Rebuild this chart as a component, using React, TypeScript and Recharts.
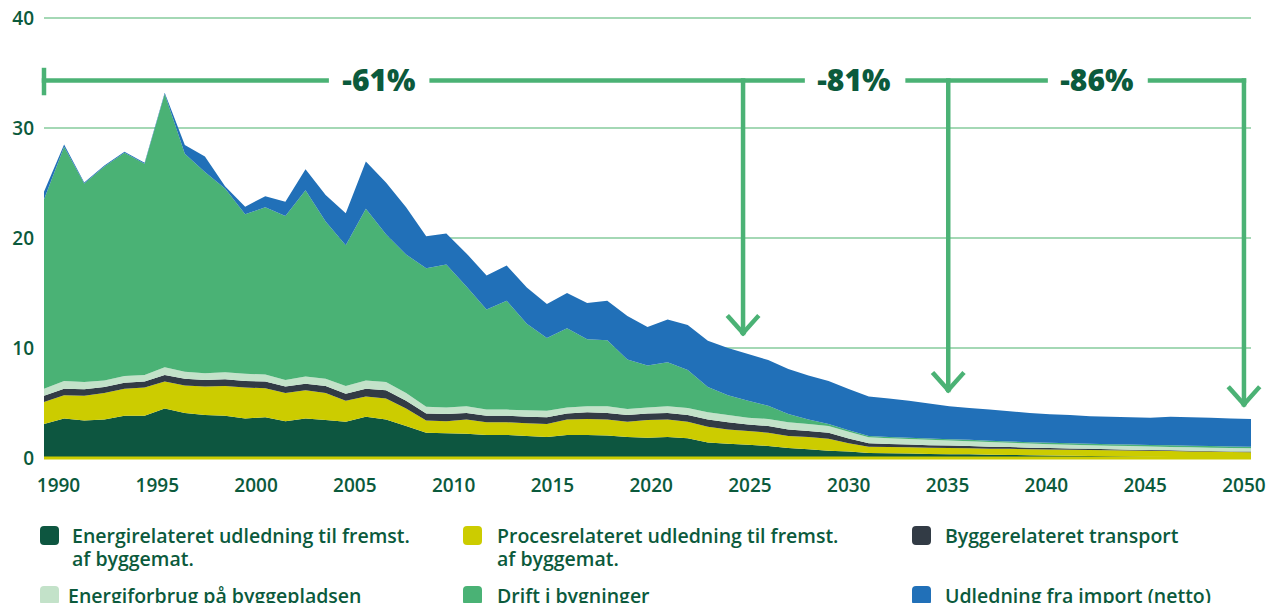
import { AreaChart, Area, XAxis, YAxis, CartesianGrid, ReferenceLine, ReferenceDot } from "recharts";

// --- data (Mt CO2e) ---
const years = [
  1990, 1991, 1992, 1993, 1994, 1995, 1996, 1997, 1998, 1999,
  2000, 2001, 2002, 2003, 2004, 2005, 2006, 2007, 2008, 2009,
  2010, 2011, 2012, 2013, 2014, 2015, 2016, 2017, 2018, 2019,
  2020, 2021, 2022, 2023, 2024, 2025, 2026, 2027, 2028, 2029,
  2030, 2031, 2032, 2033, 2034, 2035, 2036, 2037, 2038, 2039,
  2040, 2041, 2042, 2043, 2044, 2045, 2046, 2047, 2048, 2049,
  2050,
];

const energi = [
  3.1, 3.6, 3.4, 3.5, 3.85, 3.85, 4.5, 4.1, 3.9, 3.85,
  3.6, 3.7, 3.35, 3.6, 3.45, 3.3, 3.75, 3.5, 2.9, 2.3,
  2.25, 2.2, 2.1, 2.1, 2.0, 1.9, 2.1, 2.1, 2.05, 1.9,
  1.85, 1.9, 1.8, 1.4, 1.3, 1.2, 1.1, 0.9, 0.8, 0.67,
  0.58, 0.45, 0.43, 0.4, 0.37, 0.35, 0.33, 0.3, 0.28, 0.25,
  0.22, 0.2, 0.18, 0.16, 0.14, 0.12, 0.1, 0.08, 0.06, 0.04,
  0.03,
];

const proces = [
  2.0, 2.1, 2.25, 2.4, 2.45, 2.55, 2.45, 2.5, 2.6, 2.7,
  2.8, 2.65, 2.55, 2.55, 2.45, 1.9, 1.85, 1.9, 1.6, 1.1,
  1.1, 1.3, 1.15, 1.15, 1.15, 1.2, 1.4, 1.45, 1.45, 1.4,
  1.6, 1.6, 1.5, 1.45, 1.3, 1.25, 1.2, 1.1, 1.1, 1.08,
  0.75, 0.58, 0.57, 0.57, 0.56, 0.56, 0.56, 0.55, 0.55, 0.55,
  0.56, 0.55, 0.55, 0.54, 0.54, 0.53, 0.53, 0.52, 0.52, 0.51,
  0.5,
];

const transport = [
  0.55, 0.6, 0.6, 0.55, 0.55, 0.55, 0.6, 0.6, 0.6, 0.6,
  0.6, 0.6, 0.6, 0.6, 0.65, 0.65, 0.7, 0.75, 0.7, 0.65,
  0.65, 0.6, 0.6, 0.6, 0.6, 0.6, 0.55, 0.6, 0.6, 0.6,
  0.6, 0.6, 0.6, 0.65, 0.65, 0.6, 0.6, 0.6, 0.55, 0.55,
  0.45, 0.3, 0.28, 0.26, 0.24, 0.22, 0.2, 0.18, 0.16, 0.14,
  0.12, 0.11, 0.1, 0.09, 0.08, 0.07, 0.07, 0.06, 0.06, 0.05,
  0.05,
];

const byggeplads = [
  0.65, 0.7, 0.65, 0.6, 0.6, 0.6, 0.7, 0.65, 0.6, 0.65,
  0.65, 0.65, 0.6, 0.65, 0.65, 0.7, 0.75, 0.75, 0.7, 0.6,
  0.6, 0.6, 0.55, 0.55, 0.6, 0.6, 0.55, 0.55, 0.6, 0.55,
  0.55, 0.6, 0.65, 0.65, 0.65, 0.6, 0.65, 0.65, 0.65, 0.6,
  0.6, 0.55, 0.52, 0.5, 0.48, 0.46, 0.44, 0.42, 0.4, 0.38,
  0.36, 0.35, 0.34, 0.33, 0.32, 0.32, 0.31, 0.31, 0.3, 0.3,
  0.3,
];

const drift = [
  17.2, 21.3, 18.05, 19.45, 20.3, 19.2, 24.85, 19.8, 18.3, 16.7,
  14.5, 15.2, 14.9, 16.95, 14.3, 12.8, 15.6, 13.45, 12.6, 12.6,
  13.0, 10.9, 9.1, 9.9, 7.85, 6.6, 7.2, 6.1, 6.0, 4.5,
  3.8, 4.0, 3.45, 2.3, 1.8, 1.55, 1.2, 0.75, 0.4, 0.2,
  0.15, 0.12, 0.12, 0.12, 0.12, 0.12, 0.12, 0.12, 0.12, 0.12,
  0.12, 0.13, 0.13, 0.13, 0.14, 0.14, 0.14, 0.15, 0.15, 0.15,
  0.15,
];

const importNetto = [
  0.7, 0.2, 0.1, 0.1, 0.1, 0.1, 0.1, 0.8, 1.4, 0.2,
  0.7, 1.0, 1.3, 1.9, 2.4, 2.9, 4.3, 4.7, 4.3, 2.9,
  2.8, 3.0, 3.1, 3.2, 3.3, 3.1, 3.2, 3.3, 3.6, 3.95,
  3.5, 3.9, 4.1, 4.2, 4.3, 4.25, 4.15, 4.1, 4.0, 3.9,
  3.75, 3.6, 3.48, 3.35, 3.18, 2.99, 2.9, 2.83, 2.74, 2.66,
  2.6, 2.56, 2.5, 2.5, 2.48, 2.47, 2.6, 2.58, 2.56, 2.55,
  2.52,
];

const xTicks = [1990, 1995, 2000, 2005, 2010, 2015, 2020, 2025, 2030, 2035, 2040, 2045, 2050];
const yTicks = [0, 10, 20, 30, 40];

// reduction brackets: label, text position (year), gap in the line, arrow year, arrow tip value
const reductions = [
  { label: "-61%", textYear: 2006.65, gap: [2004.05, 2009.27], arrowYear: 2024.75, tip: 11.36 },
  { label: "-81%", textYear: 2030.26, gap: [2027.71, 2032.93], arrowYear: 2034.95, tip: 6.18 },
  { label: "-86%", textYear: 2042.34, gap: [2039.79, 2044.98], arrowYear: 2049.65, tip: 4.88 },
];
const bracketY = 34.32;

const series = [
  { key: "energi", name: ["Energirelateret udledning til fremst.", "af byggemat."], color: "#0d5640" },
  { key: "proces", name: ["Procesrelateret udledning til fremst.", "af byggemat."], color: "#cccc00" },
  { key: "transport", name: ["Byggerelateret transport"], color: "#323b45" },
  { key: "byggeplads", name: ["Energiforbrug på byggepladsen"], color: "#c3e2c9" },
  { key: "drift", name: ["Drift i bygninger"], color: "#4ab275" },
  { key: "importNetto", name: ["Udledning fra import (netto)"], color: "#2170b8" },
];

const rows = years.map((year, i) => ({
  year,
  energi: energi[i],
  proces: proces[i],
  transport: transport[i],
  byggeplads: byggeplads[i],
  drift: drift[i],
  importNetto: importNetto[i],
}));

const TEXT = "#0b5a3c";
const ARROW = "#4bb275";

// legend placement (3 columns x 2 rows)
const legendCols = [
  { sq: 32, tx: 64 },
  { sq: 455, tx: 489 },
  { sq: 904, tx: 937 },
];
const legendRows = [537, 597];

// year labels in the original sit a bit tighter than the data points
const XTick = (props: any) => {
  const { x, y, payload } = props;
  const dx = 14.5 - (payload.value - 1990) * 0.36;
  return (
    <text x={x + dx} y={y} dy="0.71em" textAnchor="middle" fill={TEXT} fontSize={19} fontWeight={600}>
      {payload.value}
    </text>
  );
};

const App = () => {
  // bracket line segments built from the reduction table
  const segs: Array<[number, number, number, number]> = [];
  segs.push([1990, 35.27, 1990, 33.18]);
  let start = 1990;
  reductions.forEach((r) => {
    segs.push([start, bracketY, r.gap[0], bracketY]);
    start = r.gap[1];
  });
  segs.push([start, bracketY, reductions[2].arrowYear, bracketY]);
  reductions.forEach((r) => {
    segs.push([r.arrowYear, bracketY, r.arrowYear, r.tip]);
    segs.push([r.arrowYear - 0.71, r.tip + 1.45, r.arrowYear, r.tip]);
    segs.push([r.arrowYear + 0.71, r.tip + 1.45, r.arrowYear, r.tip]);
  });

  return (
    <div
      style={{
        position: "relative",
        width: 1269,
        height: 605,
        marginTop: -10,
        fontFamily: "'Open Sans', sans-serif",
      }}
    >
      <AreaChart width={1269} height={520} data={rows} margin={{ top: 20, right: 26, left: 0, bottom: 10 }}>
        <CartesianGrid horizontal vertical={false} stroke="#86cb9d" strokeWidth={1.3} />
        <XAxis
          dataKey="year"
          type="number"
          domain={[1990, 2050]}
          ticks={xTicks}
          height={50}
          tickSize={0}
          tickMargin={21}
          axisLine={{ stroke: "#cccc00", strokeWidth: 3 }}
          tick={<XTick />}
        />
        <YAxis
          domain={[0, 40]}
          ticks={yTicks}
          width={36}
          tickSize={0}
          tickMargin={10}
          axisLine={false}
          tick={{ fill: TEXT, fontSize: 19, fontWeight: 600 }}
        />
        {series.map((s) => (
          <Area
            key={s.key}
            type="linear"
            dataKey={s.key}
            stackId="a"
            stroke="none"
            fill={s.color}
            fillOpacity={1}
            isAnimationActive={false}
          />
        ))}
        {segs.map((s, i) => (
          <ReferenceLine
            key={i}
            segment={[{ x: s[0], y: s[1] }, { x: s[2], y: s[3] }]}
            stroke={ARROW}
            strokeWidth={4.5}
            strokeLinecap="square"
            ifOverflow="visible"
          />
        ))}
        {reductions.map((r) => (
          <ReferenceDot
            key={r.label}
            x={r.textYear}
            y={bracketY}
            r={0}
            fill="none"
            stroke="none"
            ifOverflow="visible"
            label={{ value: r.label, position: "center", fill: TEXT, fontSize: 30, fontWeight: 800 }}
          />
        ))}
      </AreaChart>
      {series.map((s, i) => {
        const col = legendCols[i % 3];
        const rowY = legendRows[Math.floor(i / 3)];
        return (
          <div key={s.key}>
            <div
              style={{
                position: "absolute",
                left: col.sq,
                top: rowY - 9,
                width: 19,
                height: 19,
                borderRadius: 4,
                background: s.color,
              }}
            />
            <div
              style={{
                position: "absolute",
                left: i === 3 ? col.tx - 4 : col.tx,
                top: rowY - 11.5,
                fontSize: 19.5,
                lineHeight: "23px",
                fontWeight: 600,
                color: TEXT,
                whiteSpace: "nowrap",
              }}
            >
              {s.name.map((line, j) => (
                <span key={line}>
                  {j > 0 && <br />}
                  {line}
                </span>
              ))}
            </div>
          </div>
        );
      })}
    </div>
  );
};

export default App;
